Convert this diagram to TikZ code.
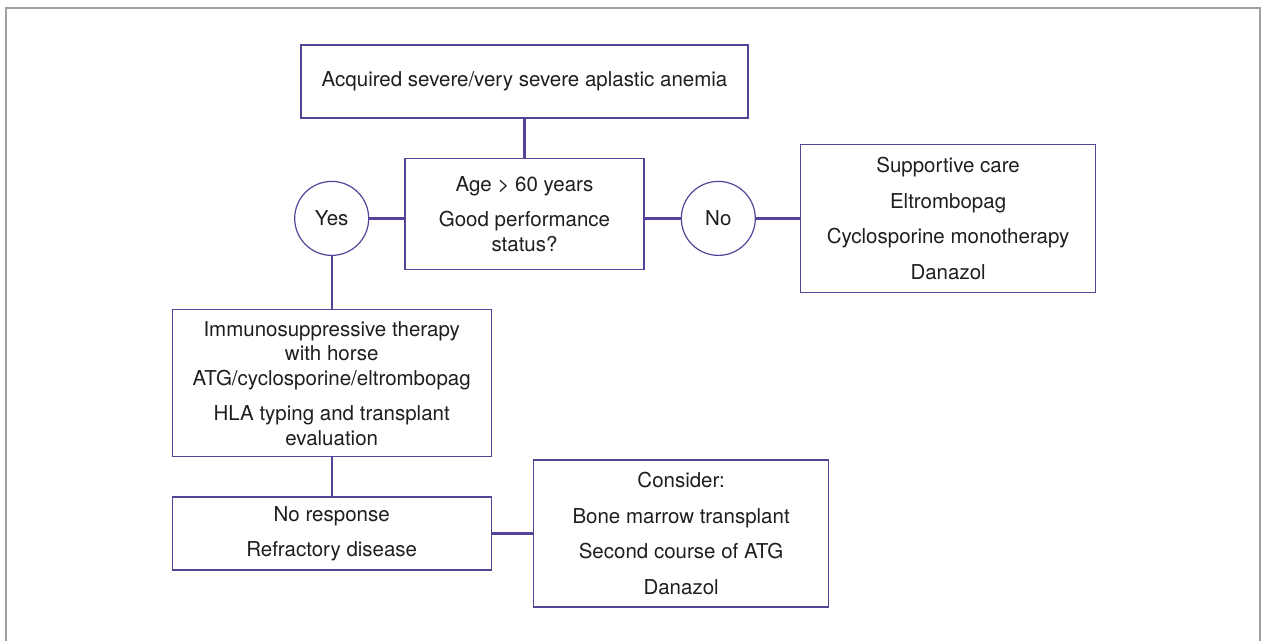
\documentclass[tikz,border=0pt]{standalone}
\usepackage{fontspec}
\setmainfont{TeX Gyre Heros}
\usepackage{tikz}
\usetikzlibrary{positioning}

\definecolor{flowpurple}{RGB}{86,66,150}
\definecolor{framegray}{RGB}{160,160,160}
\definecolor{textgray}{RGB}{30,30,30}

\begin{document}
\begin{tikzpicture}[x=1pt, y=-1pt]
    % Define styles for the nodes
    \tikzstyle{box} = [
        draw=flowpurple, line width=1.4pt, align=center, inner sep=0pt,
        text=textgray, font=\fontsize{20.5}{24.5}\selectfont
    ]
    \tikzstyle{answer} = [
        circle, draw=flowpurple, line width=1.2pt, inner sep=0pt,
        minimum size=74pt, text=textgray, font=\fontsize{20.5}{24.5}\selectfont
    ]
    \tikzstyle{link} = [draw=flowpurple, line width=2.4pt]

    % Page and frame
    \useasboundingbox (0,0) rectangle (1261,640);
    \draw[framegray, line width=2pt] (5.5,650) -- (5.5,7.5) -- (1260,7.5) -- (1260,650);

    % Diagnosis
    \node[box, minimum width=447pt, minimum height=73pt] (start) at (524.5,81.5)
        {Acquired severe/very severe aplastic anemia};

    % Question
    \node[box, minimum width=239pt, minimum height=111pt, below=39pt of start] (age)
        {Age > 60 years\\[11pt]Good performance\\status?};

    % Answers
    \node[answer, left=35pt of age, yshift=-4.5pt] (yes) {Yes};
    \node[answer, right=36pt of age, yshift=-4.5pt] (no) {No};

    % No branch
    \node[box, minimum width=295pt, minimum height=148pt, anchor=west, xshift=44pt] (care) at (no.east)
        {Supportive care\\[11pt]Eltrombopag\\[11pt]Cyclosporine monotherapy\\[11pt]Danazol};

    % Yes branch
    \node[box, minimum width=319pt, minimum height=147pt, below=53pt of yes] (ist)
        {Immunosuppressive therapy\\with horse\\ATG/cyclosporine/eltrombopag\\[11pt]HLA typing and transplant\\evaluation};
    \node[box, minimum width=319pt, minimum height=73pt, below=39pt of ist] (noresp)
        {No response\\[11pt]Refractory disease};
    \node[box, minimum width=295pt, minimum height=147pt, right=41pt of noresp] (consider)
        {Consider:\\[11pt]Bone marrow transplant\\[11pt]Second course of ATG\\[11pt]Danazol};

    % Connectors
    \draw[link] (start) -- (age);
    \draw[link] (yes) -- (yes -| age.west);
    \draw[link] (no) -- (no -| age.east);
    \draw[link] (no) -- (care);
    \draw[link] (yes) -- (ist);
    \draw[link] (ist) -- (noresp);
    \draw[link] (noresp) -- (consider);

\end{tikzpicture}
\end{document}
